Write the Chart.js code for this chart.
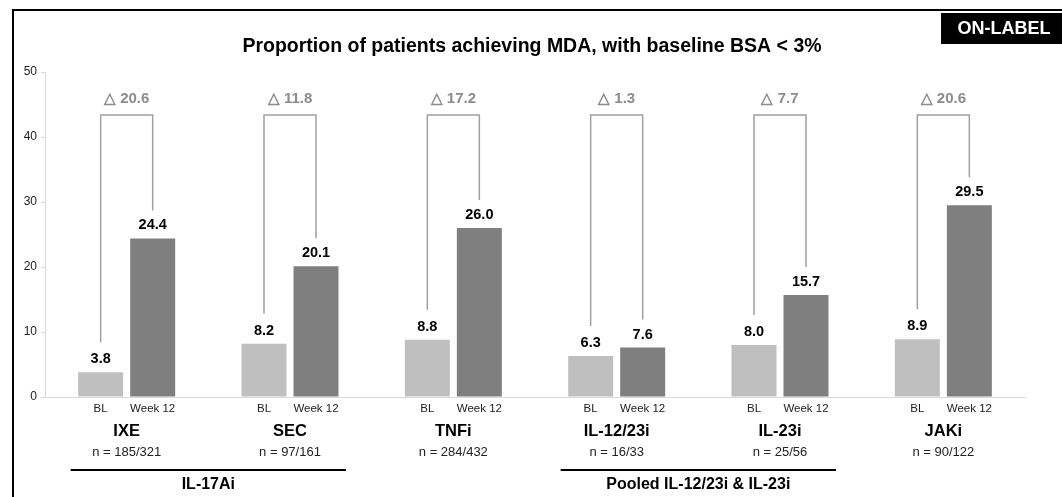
<!DOCTYPE html>
<html lang="en">
<head>
  <meta charset="UTF-8">
  <title>Proportion of patients achieving MDA</title>
  <script src="https://cdn.jsdelivr.net/npm/chart.js"></script>
  <style>
    body { margin: 0; background: #fff; }
    #wrap { width: 1062px; height: 497px; position: relative; }
  </style>
</head>
<body>
  <div id="wrap"><canvas id="mdaChart"></canvas></div>

  <script>
    // chart values
    const groups = ['IXE', 'SEC', 'TNFi', 'IL-12/23i', 'IL-23i', 'JAKi'];
    const groupN = ['n = 185/321', 'n = 97/161', 'n = 284/432', 'n = 16/33', 'n = 25/56', 'n = 90/122'];
    const timepoints = ['BL', 'Week 12'];
    const blValues = [3.8, 8.2, 8.8, 6.3, 8.0, 8.9];
    const week12Values = [24.4, 20.1, 26.0, 7.6, 15.7, 29.5];
    const deltas = [20.6, 11.8, 17.2, 1.3, 7.7, 20.6];
    const classNames = ['IL-17Ai', 'Pooled IL-12/23i & IL-23i'];
    const classMembers = [[0, 1], [3, 4]];

    const FONT = '"Liberation Sans", Arial, sans-serif';
    const font = (size, bold) => (bold ? 'bold ' : '') + size + 'px ' + FONT;

    // draws frame, title, labels, brackets and class lines
    const annotations = {
      id: 'annotations',
      afterDraw(chart) {
        const ctx = chart.ctx;
        const xs = chart.scales.x, ys = chart.scales.y;
        const bl = chart.getDatasetMeta(0).data;
        const wk = chart.getDatasetMeta(1).data;
        ctx.save();
        ctx.textAlign = 'center';
        ctx.textBaseline = 'middle';

        // outer frame
        ctx.fillStyle = '#000';
        ctx.fillRect(12, 9, 1050, 2);
        ctx.fillRect(12, 9, 2, 488);

        // ON-LABEL tag
        ctx.fillRect(941, 13, 121, 31);
        ctx.fillStyle = '#fff';
        ctx.font = font(18, true);
        ctx.fillText('ON-LABEL', 1004, 29);

        // title
        ctx.fillStyle = '#000';
        ctx.font = font(19.5, true);
        ctx.fillText('Proportion of patients achieving MDA, with baseline BSA < 3%', 532, 47);

        const bracketTop = ys.getPixelForValue(43.4);

        groups.forEach((g, i) => {
          const cx = xs.getPixelForValue(i);
          const b = bl[i], w = wk[i];

          // value labels
          ctx.fillStyle = '#000';
          ctx.font = font(14.5, true);
          ctx.fillText(blValues[i].toFixed(1), b.x, b.y - 13);
          ctx.fillText(week12Values[i].toFixed(1), w.x, w.y - 13);

          // timepoint labels
          ctx.font = font(11.5, false);
          ctx.fillStyle = '#222';
          ctx.fillText(timepoints[0], b.x, 409);
          ctx.fillText(timepoints[1], w.x, 409);

          // group name and n
          ctx.fillStyle = '#000';
          ctx.font = font(16.5, true);
          ctx.fillText(g, cx, 431);
          ctx.font = font(13, false);
          ctx.fillStyle = '#222';
          ctx.fillText(groupN[i], cx, 452);

          // delta bracket
          ctx.strokeStyle = '#a0a0a0';
          ctx.lineWidth = 1.5;
          ctx.beginPath();
          ctx.moveTo(b.x, b.y - 30);
          ctx.lineTo(b.x, bracketTop);
          ctx.lineTo(w.x, bracketTop);
          ctx.lineTo(w.x, w.y - 28);
          ctx.stroke();

          ctx.fillStyle = '#8c8c8c';
          ctx.font = font(15, true);
          ctx.fillText('\u25B3 ' + deltas[i].toFixed(1), cx, bracketTop - 16);
        });

        // drug class lines
        classNames.forEach((name, k) => {
          const [a, z] = classMembers[k];
          const x0 = xs.getPixelForValue(a) - 56;
          const x1 = xs.getPixelForValue(z) + 56;
          ctx.fillStyle = '#000';
          ctx.fillRect(x0, 469, x1 - x0, 2);
          ctx.font = font(16, true);
          ctx.fillText(name, (x0 + x1) / 2, 485);
        });

        ctx.restore();
      }
    };

    const ctx = document.getElementById('mdaChart').getContext('2d');
    const chart = new Chart(ctx, {
      type: 'bar',
      data: {
        labels: groups,
        datasets: [
          { label: timepoints[0], data: blValues, backgroundColor: '#bfbfbf' },
          { label: timepoints[1], data: week12Values, backgroundColor: '#7f7f7f' }
        ]
      },
      options: {
        responsive: true,
        maintainAspectRatio: false,
        animation: false,
        categoryPercentage: 0.637,
        barPercentage: 0.865,
        layout: { padding: { left: 0, right: 37, top: 72, bottom: 100 } },
        plugins: {
          legend: { display: false },
          tooltip: { enabled: false }
        },
        scales: {
          x: {
            grid: { display: false },
            border: { color: '#d9d9d9', width: 1 },
            ticks: { display: false },
            afterFit(scale) { scale.height = 0; }
          },
          y: {
            min: 0,
            max: 50,
            ticks: { stepSize: 10, color: '#222', font: { family: FONT, size: 12 }, padding: 4 },
            grid: { drawOnChartArea: false, drawTicks: true, tickLength: 4, color: '#d9d9d9' },
            border: { color: '#d9d9d9', width: 1 },
            afterFit(scale) { scale.width = 45; }
          }
        }
      },
      plugins: [annotations]
    });
  </script>
</body>
</html>
